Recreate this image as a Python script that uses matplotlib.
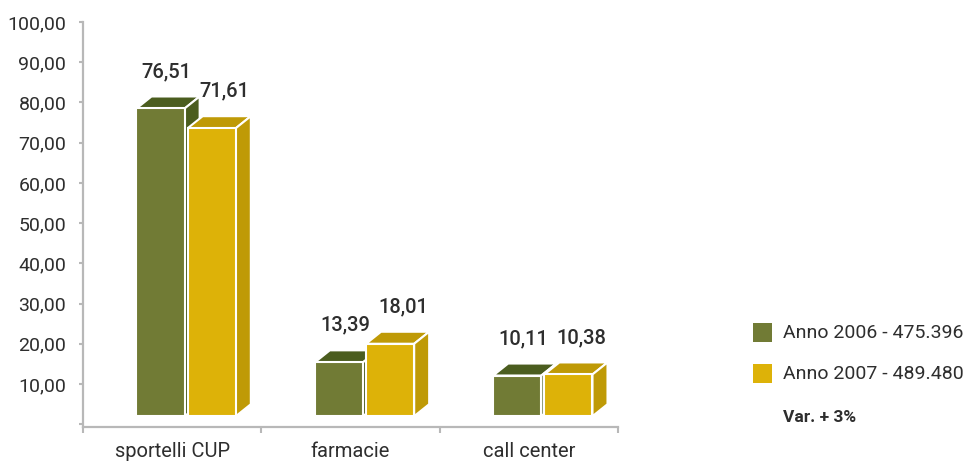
import matplotlib
matplotlib.use("Agg")
import matplotlib.pyplot as plt
from matplotlib.patches import Polygon, Rectangle
from matplotlib.transforms import ScaledTranslation

# Share of bookings by channel (%)
categories = ["sportelli CUP", "farmacie", "call center"]
series_names = ["Anno 2006 - 475.396", "Anno 2007 - 489.480"]
values_2006 = [76.51, 13.39, 10.11]
values_2007 = [71.61, 18.01, 10.38]
ytick_values = [0, 10, 20, 30, 40, 50, 60, 70, 80, 90, 100]
note_text = "Var. + 3%"

front_colors = ["#717B35", "#DDB208"]
shade_colors = ["#4B5D1F", "#BF9A06"]
text_color = "#2E2E2E"
axis_color = "#B8B8B8"

plt.rcParams["font.family"] = ["Roboto", "DejaVu Sans"]

W, H = 968, 463
fig = plt.figure(figsize=(W / 100, H / 100), dpi=100)
ax = fig.add_axes([83 / W, 1 - 426.6 / H, 535 / W, (426.6 - 22) / H])
ax.set_xlim(0, 3)
ax.set_ylim(-0.6, 100)

# 3D look: depth of the extruded bars and lift of the floor, in pixels
depth_px = (15, 12)
lift = ScaledTranslation(0, 0.08, fig.dpi_scale_trans)
px_x = ax.bbox.width / 3.0
px_y = ax.bbox.height / 100.6
dx = depth_px[0] / px_x
dy = depth_px[1] / px_y

bar_w = 0.27
offsets = [-0.065, 0.222]
label_shift = [6, 13]
series = [values_2006, values_2007]

for s, vals in enumerate(series):
    z = 2 + s
    xs = [i + 0.5 + offsets[s] for i in range(len(categories))]
    bars = ax.bar(xs, vals, width=bar_w, color=front_colors[s],
                  edgecolor="white", linewidth=1.5, zorder=z + 0.2)
    for b in bars:
        b.set_transform(ax.transData + lift)
    for x, v in zip(xs, vals):
        x0, x1 = x - bar_w / 2, x + bar_w / 2
        top = Polygon([(x0, v), (x1, v), (x1 + dx, v + dy), (x0 + dx, v + dy)],
                      closed=True, facecolor=shade_colors[s], edgecolor="white",
                      linewidth=1.5, zorder=z + 0.1, transform=ax.transData + lift)
        side = Polygon([(x1, 0), (x1 + dx, dy), (x1 + dx, v + dy), (x1, v)],
                       closed=True, facecolor=shade_colors[s], edgecolor="white",
                       linewidth=1.5, zorder=z + 0.1, transform=ax.transData + lift)
        ax.add_patch(top)
        ax.add_patch(side)
        ax.annotate(f"{v:.2f}".replace(".", ","), xy=(x, v),
                    xytext=(label_shift[s], 45), textcoords="offset pixels",
                    ha="center", va="center", fontsize=14.5,
                    fontweight="medium", color=text_color, zorder=10)

# Axes styling
for side_name in ("top", "right"):
    ax.spines[side_name].set_visible(False)
for side_name in ("left", "bottom"):
    ax.spines[side_name].set_color(axis_color)
    ax.spines[side_name].set_linewidth(1.6)

ax.set_yticks(ytick_values)
ax.set_yticklabels(["" if v == 0 else f"{v:.2f}".replace(".", ",") for v in ytick_values])
ax.tick_params(axis="y", length=3, width=1.5, color=axis_color, pad=9,
               labelsize=14, labelcolor=text_color)

ax.set_xticks([0, 1, 2, 3])
ax.set_xticklabels([])
ax.tick_params(axis="x", which="major", length=4, width=1.5, color=axis_color)
ax.set_xticks([i + 0.5 for i in range(len(categories))], minor=True)
ax.set_xticklabels(categories, minor=True)
ax.tick_params(axis="x", which="minor", length=0, pad=11, labelsize=14.5,
               labelcolor=text_color)

# Legend
legend_rows = [(342, 333), (383, 374)]
for s, (bottom_px, center_px) in enumerate(legend_rows):
    fig.patches.append(Rectangle((753 / W, 1 - bottom_px / H), 19 / W, 19 / H,
                                 transform=fig.transFigure,
                                 facecolor=front_colors[s], edgecolor="none"))
    fig.text(783 / W, 1 - center_px / H, series_names[s], ha="left", va="center",
             fontsize=14, color=text_color)
fig.text(783 / W, 1 - 417 / H, note_text, ha="left", va="center",
         fontsize=12.5, fontweight="bold", color=text_color)

fig.savefig("out.png", dpi=100)
